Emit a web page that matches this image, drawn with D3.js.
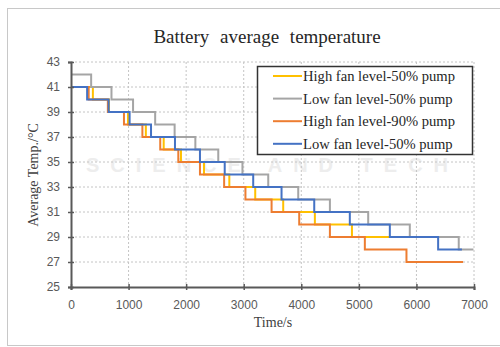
<!DOCTYPE html>
<html>
<head>
<meta charset="utf-8">
<script src="https://cdn.jsdelivr.net/npm/d3@7"></script>
<style>
  body { margin: 0; background: #fff; }
  svg { display: block; }
</style>
</head>
<body>
<div id="chart"></div>
<script>
// step series: times[i] = when temps[i] starts, last time = end of line
var yellowTimes = [0, 380, 660, 990, 1300, 1610, 1910, 2310, 2750, 3200, 3686, 4236, 4880, 6700];
var yellowTemps = [41, 40, 39, 38, 37, 36, 35, 34, 33, 32, 31, 30, 29];

var grayTimes = [0, 350, 703, 1078, 1462, 1800, 2160, 2558, 2978, 3426, 3947, 4497, 5162, 5885, 6735, 6990];
var grayTemps = [42, 41, 40, 39, 38, 37, 36, 35, 34, 33, 32, 31, 30, 29, 28];

var orangeTimes = [0, 307, 640, 920, 1240, 1550, 1864, 2240, 2660, 3030, 3484, 3964, 4497, 5104, 5827, 6810];
var orangeTemps = [41, 40, 39, 38, 37, 36, 35, 34, 33, 32, 31, 30, 29, 28, 27];

var blueTimes = [0, 280, 654, 1018, 1390, 1806, 2240, 2670, 3165, 3657, 4225, 4843, 5538, 6377, 6790];
var blueTemps = [41, 40, 39, 38, 37, 36, 35, 34, 33, 32, 31, 30, 29, 28];

var seriesNames = ["High fan level-50% pump", "Low fan level-50% pump", "High fan level-90% pump", "Low fan level-50% pump"];
var seriesColors = ["#FFC000", "#A5A5A5", "#ED7D31", "#4472C4"];

var xTicks = [0, 1000, 2000, 3000, 4000, 5000, 6000, 7000];
var yTicks = [25, 27, 29, 31, 33, 35, 37, 39, 41, 43];

var svgWidth = 500;
var svgHeight = 347;

var svg = d3.select("#chart")
    .append("svg")
    .attr("width", svgWidth)
    .attr("height", svgHeight);

// faint watermark behind the plot
svg.append("text")
    .attr("x", 86)
    .attr("y", 172)
    .style("font-family", "'Liberation Sans', Arial, sans-serif")
    .style("font-weight", "bold")
    .style("font-size", "20px")
    .style("letter-spacing", "11px")
    .style("fill", "#ededed")
    .text("SCIENCE AND TECH");

// outer frame
svg.append("rect")
    .attr("x", 7.5)
    .attr("y", 8.5)
    .attr("width", 500)
    .attr("height", 337)
    .attr("fill", "none")
    .attr("stroke", "#c8c8c8");

var x = d3.scaleLinear().domain([0, 7000]).range([71, 474]);
var y = d3.scaleLinear().domain([25, 43]).range([287, 62]);

// gridlines
svg.append("g")
    .selectAll("line")
    .data(yTicks.slice(1))
    .enter()
    .append("line")
    .attr("x1", x(0))
    .attr("x2", x(7000))
    .attr("y1", d => y(d))
    .attr("y2", d => y(d))
    .attr("stroke", "#c4c4c4")
    .attr("stroke-width", 1)
    .attr("stroke-dasharray", "2,2");

svg.append("g")
    .selectAll("line")
    .data(xTicks.slice(1))
    .enter()
    .append("line")
    .attr("x1", d => x(d))
    .attr("x2", d => x(d))
    .attr("y1", y(43))
    .attr("y2", y(25))
    .attr("stroke", "#c4c4c4")
    .attr("stroke-width", 1)
    .attr("stroke-dasharray", "2,2");

// step lines
var line = d3.line()
    .x(d => x(d[0]))
    .y(d => y(d[1]))
    .curve(d3.curveStepAfter);

function stepPoints(times, temps) {
    var pts = temps.map((t, i) => [times[i], t]);
    pts.push([times[times.length - 1], temps[temps.length - 1]]);
    return pts;
}

var allSeries = [
    stepPoints(yellowTimes, yellowTemps),
    stepPoints(grayTimes, grayTemps),
    stepPoints(orangeTimes, orangeTemps),
    stepPoints(blueTimes, blueTemps)
];

svg.append("g")
    .selectAll("path")
    .data(allSeries)
    .enter()
    .append("path")
    .attr("d", line)
    .attr("fill", "none")
    .attr("stroke", (d, i) => seriesColors[i])
    .attr("stroke-width", 2);

// axes
var leftAxis = d3.axisLeft(y).tickValues(yTicks).tickSize(3).tickPadding(8);
var bottomAxis = d3.axisBottom(x).tickValues(xTicks).tickFormat(d3.format("d")).tickSize(3).tickPadding(8);

var yAxis = svg.append("g")
    .attr("transform", `translate(${x(0)},0)`)
    .call(leftAxis);

var xAxis = svg.append("g")
    .attr("transform", `translate(0,${y(25)})`)
    .call(bottomAxis);

[xAxis, yAxis].forEach(function(g) {
    g.select(".domain").attr("stroke", "#595959").attr("stroke-width", 2);
    g.selectAll(".tick text")
        .style("font-family", "'Liberation Sans', Arial, sans-serif")
        .style("font-size", "12px")
        .attr("fill", "#595959");
    g.selectAll(".tick line").attr("stroke", "#595959").attr("stroke-width", 1.5);
});
yAxis.selectAll(".tick line").attr("x1", -3).attr("x2", 3);
xAxis.selectAll(".tick line").attr("y1", -3).attr("y2", 3);
xAxis.selectAll(".tick text").attr("dy", "0.9em");

// title + axis labels
svg.append("text")
    .attr("x", 267)
    .attr("y", 43)
    .attr("text-anchor", "middle")
    .style("font-family", "'Liberation Serif', 'Times New Roman', serif")
    .style("font-size", "19px")
    .style("word-spacing", "6px")
    .attr("fill", "#262626")
    .text("Battery average temperature");

svg.append("text")
    .attr("x", 273)
    .attr("y", 327)
    .attr("text-anchor", "middle")
    .style("font-family", "'Liberation Serif', 'Times New Roman', serif")
    .style("font-size", "14px")
    .attr("fill", "#404040")
    .text("Time/s");

svg.append("text")
    .attr("transform", "rotate(-90)")
    .attr("x", -175)
    .attr("y", 38)
    .attr("text-anchor", "middle")
    .style("font-family", "'Liberation Serif', 'Times New Roman', serif")
    .style("font-size", "14px")
    .attr("fill", "#404040")
    .text("Average Temp./°C");

// legend
var legend = svg.append("g");
legend.append("rect")
    .attr("x", 257.5)
    .attr("y", 66.5)
    .attr("width", 215)
    .attr("height", 88)
    .attr("fill", "#fff")
    .attr("stroke", "#333")
    .attr("stroke-width", 1.5);

var legendRows = legend.selectAll("g.row")
    .data(seriesNames)
    .enter()
    .append("g")
    .attr("transform", (d, i) => `translate(0,${76 + i * 22.6})`);

legendRows.append("line")
    .attr("x1", 273)
    .attr("x2", 302)
    .attr("stroke", (d, i) => seriesColors[i])
    .attr("stroke-width", 2);

legendRows.append("text")
    .attr("x", 303)
    .attr("y", 5)
    .style("font-family", "'Liberation Serif', 'Times New Roman', serif")
    .style("font-size", "14.6px")
    .attr("fill", "#262626")
    .text(d => d);
</script>
</body>
</html>
